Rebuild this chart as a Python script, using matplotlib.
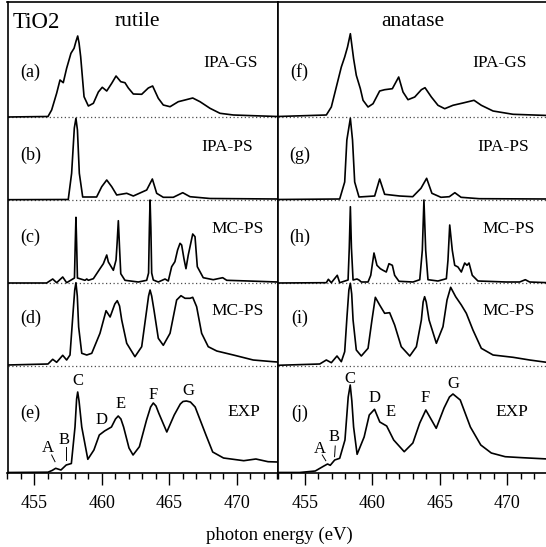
import matplotlib.pyplot as plt
from matplotlib.ticker import MultipleLocator

plt.rcParams['font.family'] = ['Liberation Serif', 'DejaVu Serif']
plt.rcParams['font.size'] = 12.5

# ---------------- rutile ----------------
# (a) IPA-GS
ru_gs_x = [453, 456.0, 456.27, 456.64, 456.89, 457.13, 457.38, 457.7, 457.93, 458.08, 458.2, 458.3, 458.42,
           458.67, 458.99, 459.36, 459.73, 460.02, 460.35, 460.72, 461.04, 461.39, 461.7, 461.95,
           462.32, 462.94, 463.43, 463.75, 464.17, 464.54, 465.04, 465.65, 466.15, 466.72, 467.26,
           468.0, 468.74, 469.73, 471.2, 473]
ru_gs_y = [0, 0.5, 7, 23.7, 37, 34.3, 48.7, 63.7, 68.7, 76, 81, 74, 60.3,
           20.3, 11, 13.7, 25, 29.7, 26, 33.7, 41, 35.3, 34.3, 29,
           23, 22.7, 29, 31, 18.7, 12, 10.3, 15.3, 17, 19, 15.3,
           8.7, 3.7, 2, 1.3, 0.5]

# (b) IPA-PS
ru_ps_x = [453, 457.5, 457.75, 457.95, 458.07, 458.18, 458.32, 458.57, 459.6, 459.98, 460.35, 460.72,
           461.09, 461.83, 462.32, 463.31, 463.73, 464.05, 464.54, 465.28, 465.98, 466.52, 468.0, 473]
ru_ps_y = [0.3, 0.5, 26.7, 72, 81.7, 70, 26.7, 3, 3, 13.3, 20, 13.3,
           5, 6.7, 4, 10, 21, 6.7, 2.7, 2.7, 7.3, 3.3, 1.5, 1]

# (c) MC-PS (sharp)
ru_mcs_x = [453, 455.9, 456.35, 456.64, 457.09, 457.38, 457.96, 458.02, 458.07, 458.12, 458.18,
            458.74, 458.87, 458.99, 459.36, 459.85, 460.1, 460.35, 460.47, 460.84, 461.04, 461.12,
            461.21, 461.3, 461.39, 461.7, 462.69, 463.31, 463.45, 463.51, 463.56, 463.62, 463.68,
            463.8, 464.17, 464.67, 464.91, 465.16, 465.4, 465.6, 465.78, 465.9, 466.07, 466.22,
            466.39, 466.72, 466.89, 467.06, 467.5, 468.24, 468.94, 469.24, 470.84, 473]
ru_mcs_y = [0, 0, 4, 0.3, 6, 0.3, 5, 40, 65.7, 40, 5,
            2.7, 4, 2.7, 4.3, 14.3, 19.3, 28, 21, 12.7, 23, 40,
            62.3, 35, 9.3, 2.7, 1, 2.7, 10, 55, 83, 55, 10,
            3, 1, 4, 2, 16.3, 21.3, 33, 39.7, 38, 24.3, 14.3,
            28, 49, 46.3, 16.3, 5.3, 3.3, 5.3, 2.7, 2, 1]

# (d) MC-PS (broadened)
ru_mcb_x = [453, 456.0, 456.35, 456.64, 457.09, 457.38, 457.63, 457.87, 457.98, 458.07, 458.17, 458.27,
            458.5, 458.87, 459.24, 459.85, 460.3, 460.6, 460.95, 461.13, 461.3, 461.46, 461.83,
            462.44, 462.94, 463.31, 463.45, 463.56, 463.68, 463.85, 464.17, 464.54, 465.04, 465.53,
            465.85, 466.15, 466.52, 466.72, 467.01, 467.38, 467.87, 468.5, 469.73, 471.2, 472.67, 473]
ru_mcb_y = [1, 2, 6.7, 3.7, 10.7, 6, 11, 56, 76, 83.3, 70, 39,
            12.7, 11, 12.7, 32.7, 55.3, 49, 62, 65.3, 60, 46, 22.7,
            9.3, 19.3, 56, 70, 76, 70, 56, 27.7, 20.7, 32.7, 66,
            70.3, 67.7, 67.7, 68.7, 59.3, 32.7, 19.3, 15, 11, 6, 4.3, 4]

# (e) EXP
ru_exp_x = [453, 456.0, 456.3, 456.57, 456.96, 457.35, 457.73, 458.0, 458.12, 458.2, 458.3, 458.5,
            458.95, 459.4, 459.8, 460.19, 460.7, 461.0, 461.2, 461.4, 461.6, 462.0, 462.3, 462.77,
            463.3, 463.6, 463.8, 464.0, 464.2, 464.8, 465.35, 465.8, 466.0, 466.25, 466.55, 466.9,
            467.7, 468.2, 469.0, 470.5, 471.4, 472.3, 473]
ru_exp_y = [0.5, 0.8, 2.5, 4.7, 3, 8, 9.5, 46, 74, 81, 72, 46,
            13.7, 23, 38, 42, 46, 54, 57, 54, 46, 25, 18, 26.3,
            53, 66, 70, 67, 60, 41, 58, 69, 71.5, 72, 71, 66,
            38, 21, 15, 12.3, 14, 11.3, 11]

# ---------------- anatase ----------------
# (f) IPA-GS
an_gs_x = [453, 456.58, 456.95, 457.32, 457.69, 457.94, 458.15, 458.36, 458.6, 458.8, 459.1, 459.3,
           459.67, 460.04, 460.53, 460.9, 461.47, 461.94, 462.26, 462.63, 463.13, 463.62, 463.89,
           464.36, 464.85, 465.35, 465.96, 466.7, 467.52, 468.06, 468.93, 470.41, 473]
an_gs_y = [0.5, 2, 10, 30, 50, 60, 70, 83.3, 58.3, 41.7, 28.3, 16.7,
           10, 13.3, 26, 27.3, 28.3, 40, 25, 17.3, 20, 27.3, 29.3,
           20, 11.7, 8.3, 11.7, 14, 16.7, 11.7, 6, 2.7, 1.5]

# (g) IPA-PS
an_ps_x = [453, 457.57, 457.94, 458.1, 458.36, 458.52, 458.68, 459.0, 460.16, 460.53, 460.9, 462.01,
           462.98, 463.59, 464.01, 464.4, 465.07, 465.69, 466.1, 466.56, 467.91, 473]
an_ps_y = [0.5, 1, 18, 60, 81.7, 60, 18, 3, 4, 21, 5.7, 4,
           3.3, 11.7, 21.7, 6.7, 2.7, 3.3, 7.3, 2.7, 1.3, 1]

# (h) MC-PS (sharp)
an_mcs_x = [453, 456.58, 456.73, 456.95, 457.39, 457.57, 458.19, 458.28, 458.36, 458.44, 458.56,
            458.85, 459.0, 459.17, 459.67, 459.87, 460.11, 460.33, 460.58, 460.78, 461.02, 461.22,
            461.47, 461.64, 461.96, 463.0, 463.5, 463.69, 463.81, 463.94, 464.11, 464.85, 465.47,
            465.59, 465.72, 465.91, 466.09, 466.33, 466.58, 466.83, 467.0, 467.15, 467.39, 467.81,
            469.91, 470.9, 471.32, 471.64, 473]
an_mcs_y = [0, 0.3, 3.7, 0.3, 7.7, 0.3, 3, 35, 76.3, 35, 3,
            4, 3, 1, 1, 7.7, 30, 17.7, 14.3, 12.7, 11, 19.3,
            17.7, 7.7, 1.7, 1, 3.3, 32.7, 83, 32.7, 3.3, 2, 4.3,
            22.7, 58, 32.7, 17.7, 16, 11, 20, 17.7, 20, 7.7, 2,
            1, 1, 3.3, 1, 0.3]

# (i) MC-PS (broadened)
an_mcb_x = [453, 456.09, 456.58, 456.95, 457.37, 457.69, 457.94, 458.11, 458.25, 458.36, 458.46, 458.56,
            458.8, 459.17, 459.67, 459.96, 460.21, 460.53, 460.9, 461.27, 461.64, 462.13, 462.76,
            463.25, 463.62, 463.75, 463.86, 463.98, 464.19, 464.73, 465.22, 465.52, 465.79, 466.16,
            466.58, 466.95, 467.44, 468.06, 468.93, 470.41, 471.64, 473]
an_mcb_y = [0.7, 2, 6, 3.3, 10, 4.3, 14.3, 49.3, 76, 82.7, 72, 46,
            16, 10, 17.7, 46, 68.7, 61, 52.7, 53.3, 41, 19.3, 10,
            19.3, 46, 64, 69.3, 64, 46, 22.7, 39.3, 66, 78.7, 69.3,
            61, 52.7, 36, 17.7, 11, 8.7, 6, 3.5]

# (j) EXP
an_exp_x = [453, 454.6, 455.76, 456.4, 456.67, 456.87, 457.2, 457.57, 457.96, 458.2, 458.35, 458.47,
            458.6, 458.86, 459.38, 459.76, 460.15, 460.54, 461.05, 461.57, 462.35, 462.99, 463.5,
            463.95, 464.72, 465.3, 465.7, 465.96, 466.5, 467.25, 468.02, 468.8, 469.83, 471.1, 473]
an_exp_y = [0.5, 0.5, 2, 7, 9, 7.7, 13, 14.7, 33, 76, 88, 72,
            46, 18.7, 36, 58, 63.7, 51, 47, 33, 21.3, 30, 50,
            63, 44.7, 65, 76, 79, 73, 46, 28, 20, 16.3, 15.3, 14]

methods = ['IPA-GS', 'IPA-PS', 'MC-PS', 'MC-PS', 'EXP']
rutile_tags = ['(a)', '(b)', '(c)', '(d)', '(e)']
anatase_tags = ['(f)', '(g)', '(h)', '(i)', '(j)']
peak_names = ['A', 'B', 'C', 'D', 'E', 'F', 'G']

# baseline of each curve, top to bottom (units = pixels of the original)
OFFSETS = [356, 273, 190, 107, 0]

fig = plt.figure(figsize=(5.46, 5.47), dpi=100)
W, H = 546.0, 547.0
ax1 = fig.add_axes([7.5 / W, 1 - 473 / H, 270 / W, 471 / H])
ax2 = fig.add_axes([278 / W, 1 - 473 / H, 270 / W, 471 / H])


def draw_column(ax, curves):
    for i, (x, y) in enumerate(curves):
        off = OFFSETS[i]
        ax.plot(x, [v + off for v in y], color='black', lw=1.2)
        if off > 0:
            ax.axhline(off, color='0.3', lw=0.9, ls=(0, (1, 2)), zorder=0)
    ax.set_xlim(453, 473)
    ax.set_ylim(0, 471)
    ax.set_yticks([])
    ax.set_xticks([455, 460, 465, 470])
    ax.xaxis.set_minor_locator(MultipleLocator(1))
    ax.tick_params(axis='x', which='major', direction='out', length=8.5, width=1, pad=7, labelsize=13)
    ax.tick_params(axis='x', which='minor', direction='out', length=4.5, width=1)
    for s in ax.spines.values():
        s.set_linewidth(1.2)


draw_column(ax1, [(ru_gs_x, ru_gs_y), (ru_ps_x, ru_ps_y), (ru_mcs_x, ru_mcs_y),
                  (ru_mcb_x, ru_mcb_y), (ru_exp_x, ru_exp_y)])
draw_column(ax2, [(an_gs_x, an_gs_y), (an_ps_x, an_ps_y), (an_mcs_x, an_mcs_y),
                  (an_mcb_x, an_mcb_y), (an_exp_x, an_exp_y)])

# panel labels
tag_y = [401, 318, 236, 155, 60]
name_y = [410, 326, 244, 162, 61]
name_x_left = [469.5, 469.3, 470.05, 470.05, 470.5]
name_x_right = [469.45, 469.7, 470.05, 470.05, 470.35]
for i in range(5):
    ax1.text(454.7, tag_y[i], rutile_tags[i], ha='center', va='center', fontsize=13)
    ax2.text(454.6, tag_y[i], anatase_tags[i], ha='center', va='center', fontsize=13)
    ax1.text(name_x_left[i], name_y[i], methods[i], ha='center', va='center')
    ax2.text(name_x_right[i], name_y[i], methods[i], ha='center', va='center')

ax1.text(455.15, 451, 'TiO2', ha='center', va='center', fontsize=16.5)
ax1.text(462.6, 451, 'rutile', ha='center', va='center', fontsize=15.5)
ax2.text(463.0, 451, 'anatase', ha='center', va='center', fontsize=15.5)

# peak letters on the experimental spectra
ru_peak_pos = [(456.0, 25), (457.22, 33), (458.25, 92), (459.93, 53), (461.41, 69), (463.8, 78), (466.37, 82)]
an_peak_pos = [(456.1, 24), (457.13, 36), (458.35, 94), (460.16, 75), (461.31, 61), (463.89, 75), (465.96, 89)]
for name, (px, py) in zip(peak_names, ru_peak_pos):
    ax1.text(px, py, name, ha='center', va='center', fontsize=12)
for name, (px, py) in zip(peak_names, an_peak_pos):
    ax2.text(px, py, name, ha='center', va='center', fontsize=12)
ax1.plot([456.27, 456.52], [18, 11.3], color='black', lw=0.7)
ax1.plot([457.3, 457.3], [26, 13], color='black', lw=0.7)
ax2.plot([456.28, 456.54], [18, 12.3], color='black', lw=0.7)
ax2.plot([457.24, 457.19], [27, 16.3], color='black', lw=0.7)

fig.text(279 / W, 1 - 535 / H, 'photon energy (eV)', ha='center', va='center', fontsize=13.5)

fig.savefig('out.png', dpi=100)
